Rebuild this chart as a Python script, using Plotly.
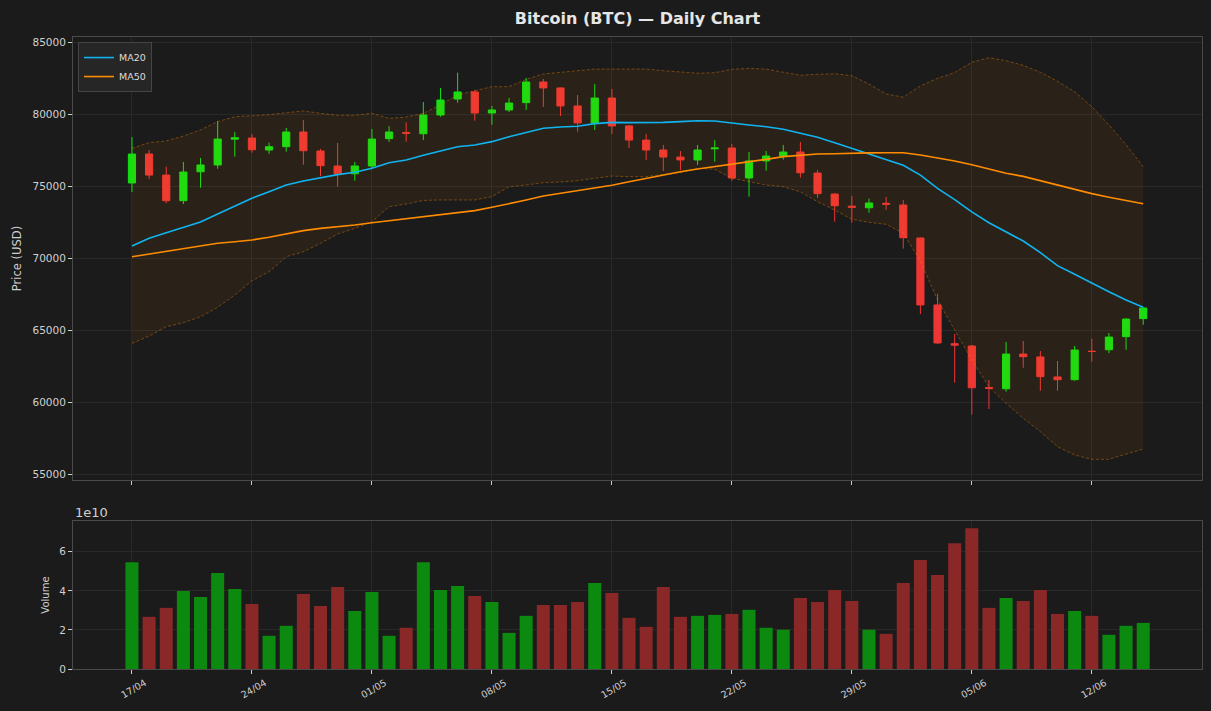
import plotly.graph_objects as go
import pandas as pd

# ---------------- data ----------------
dates = pd.date_range("2024-04-17", periods=60, freq="D")

open_ = [75210, 77220, 75760, 73980, 75990, 76460, 78250, 78330, 77500, 77730,
         78750, 77430, 76390, 75850, 76390, 78290, 78720, 78630, 79930, 81040,
         81530, 80070, 80280, 80790, 82220, 81810, 80560, 79380, 81110, 79170,
         78190, 77500, 77010, 76810, 77580, 77640, 75560, 76740, 77080, 77360,
         75900, 74440, 73600, 73490, 73800, 73680, 71390, 66740, 64050, 63890,
         61000, 60920, 63330, 63130, 61740, 61550, 63530, 63630, 64540, 65790]
high = [78400, 77500, 76340, 76670, 76940, 79510, 78750, 78610, 78010, 79030,
        79580, 77570, 77990, 76670, 78960, 79150, 79420, 80830, 81810, 82870,
        81670, 80560, 81110, 82500, 82430, 81850, 81320, 82080, 81740, 79240,
        78610, 77850, 77430, 77850, 78190, 77920, 77360, 77430, 77850, 78060,
        76110, 74510, 74310, 74120, 74240, 74030, 71420, 67500, 64720, 63960,
        61530, 64170, 64240, 63540, 62850, 63890, 64380, 64790, 65830, 66560]
low = [74580, 75490, 73800, 73750, 74880, 76200, 77040, 77310, 77240, 77380,
       76480, 75690, 74950, 75370, 76230, 78060, 78080, 78190, 79810, 80790,
       79540, 79260, 80140, 80280, 80490, 79860, 78770, 78890, 78610, 77640,
       76810, 76040, 76110, 76460, 76690, 75370, 74260, 76060, 76830, 75580,
       74170, 72520, 72450, 73150, 73350, 70650, 66110, 64030, 61340, 59120,
       59510, 60720, 62380, 60790, 60790, 61480, 62800, 63400, 63630, 65370]
close = [77220, 75760, 73980, 75970, 76460, 78260, 78350, 77520, 77730, 78750,
         77450, 76410, 75850, 76390, 78260, 78750, 78660, 79930, 80970, 81530,
         80070, 80280, 80760, 82220, 81810, 80560, 79380, 81110, 79170, 78190,
         77500, 77010, 76810, 77500, 77640, 75560, 76740, 77080, 77360, 75920,
         74470, 73630, 73530, 73820, 73740, 71410, 66740, 64100, 63950, 60990,
         60950, 63330, 63150, 61760, 61550, 63610, 63510, 64510, 65760, 66530]
volume = [5.47e10, 2.67e10, 3.13e10, 3.99e10, 3.69e10, 4.91e10, 4.10e10, 3.33e10, 1.70e10, 2.21e10,
          3.84e10, 3.23e10, 4.20e10, 2.97e10, 3.94e10, 1.70e10, 2.11e10, 5.47e10, 4.05e10, 4.25e10,
          3.74e10, 3.43e10, 1.85e10, 2.72e10, 3.28e10, 3.28e10, 3.43e10, 4.40e10, 3.89e10, 2.62e10,
          2.16e10, 4.20e10, 2.67e10, 2.72e10, 2.77e10, 2.82e10, 3.03e10, 2.11e10, 2.01e10, 3.64e10,
          3.43e10, 4.05e10, 3.48e10, 2.01e10, 1.80e10, 4.40e10, 5.58e10, 4.81e10, 6.44e10, 7.21e10,
          3.13e10, 3.64e10, 3.48e10, 4.05e10, 2.82e10, 2.97e10, 2.72e10, 1.75e10, 2.21e10, 2.36e10]
ma20 = [70830, 71370, 71760, 72130, 72500, 73060, 73610, 74150, 74600, 75070,
        75350, 75580, 75790, 75950, 76230, 76620, 76810, 77130, 77450, 77730,
        77850, 78080, 78420, 78730, 79010, 79100, 79150, 79330, 79420, 79400,
        79400, 79420, 79470, 79535, 79510, 79350, 79240, 79120, 78940, 78660,
        78380, 78010, 77620, 77220, 76850, 76440, 75760, 74840, 74060, 73200,
        72450, 71830, 71180, 70370, 69470, 68870, 68240, 67660, 67080, 66580]
ma50 = [70090, 70280, 70470, 70670, 70850, 71020, 71130, 71250, 71440, 71670,
        71900, 72060, 72170, 72290, 72450, 72590, 72740, 72870, 72970, 73130,
        73290, 73520, 73750, 74030, 74310, 74490, 74670, 74860, 75050, 75300,
        75540, 75760, 75990, 76180, 76340, 76510, 76690, 76850, 77040, 77150,
        77220, 77240, 77290, 77300, 77310, 77310, 77150, 76970, 76740, 76480,
        76160, 75880, 75670, 75370, 75050, 74740, 74470, 74220, 74010, 73770]
bb_upper = [77620, 78010, 78130, 78470, 78890, 79470, 79810, 79860, 79950, 80090,
            80210, 80050, 79910, 79910, 80050, 79700, 79790, 80050, 80630, 81320,
            81600, 81900, 81900, 82410, 82780, 82900, 82970, 83120, 83120, 83120,
            83120, 83010, 82930, 82830, 82870, 83100, 83170, 83120, 82900, 82690,
            82760, 82800, 82660, 82080, 81390, 81170, 81950, 82480, 82880, 83590,
            83910, 83700, 83380, 82900, 82270, 81550, 80510, 79240, 77870, 76340]
bb_lower = [64080, 64580, 65230, 65510, 65920, 66580, 67430, 68420, 69050, 70090,
            70440, 71020, 71670, 72060, 72520, 73560, 73750, 74000, 74030, 74030,
            74030, 74260, 74950, 75070, 75230, 75280, 75370, 75540, 75690, 75650,
            75650, 75810, 75920, 76230, 76160, 75540, 75300, 75070, 74950, 74600,
            73910, 73330, 72690, 72480, 72340, 71720, 69800, 67080, 65000, 62920,
            61060, 59910, 58870, 57940, 56900, 56320, 56020, 56020, 56390, 56740]

# ---------------- styling ----------------
GREEN = "#12e012"
RED = "#ee3634"
VOL_GREEN = "#0c8a10"
VOL_RED = "#8a2727"
BG = "#1b1b1b"
GRID = "#292929"
AXLINE = "#4a4a4a"
TXT = "#d0d0d0"
FONT = "DejaVu Sans"

vol_colors = [VOL_GREEN if c >= o else VOL_RED for o, c in zip(open_, close)]

fig = go.Figure()

band_line = dict(color="rgba(255,140,0,0.38)", width=1, dash="3px,2px")
fig.add_trace(go.Scatter(x=dates, y=bb_lower, mode="lines", line=band_line,
                         showlegend=False, hoverinfo="skip"))
fig.add_trace(go.Scatter(x=dates, y=bb_upper, mode="lines", line=band_line,
                         fill="tonexty", fillcolor="rgba(255,140,0,0.065)",
                         showlegend=False, hoverinfo="skip"))

fig.add_trace(go.Candlestick(
    x=dates, open=open_, high=high, low=low, close=close,
    increasing=dict(line=dict(color=GREEN, width=1), fillcolor=GREEN),
    decreasing=dict(line=dict(color=RED, width=1), fillcolor=RED),
    whiskerwidth=0, showlegend=False, name="BTC"))

fig.add_trace(go.Scatter(x=dates, y=ma20, mode="lines", name="MA20",
                         line=dict(color="#10b4f0", width=1.6)))
fig.add_trace(go.Scatter(x=dates, y=ma50, mode="lines", name="MA50",
                         line=dict(color="#ff8c00", width=1.6)))

fig.add_trace(go.Bar(x=dates, y=volume, marker=dict(color=vol_colors, line=dict(width=0)),
                     xaxis="x2", yaxis="y2", showlegend=False, name="Volume"))

xr = ["2024-04-13 13:26", "2024-06-18 10:19"]
common_x = dict(
    type="date", range=xr, tick0="2024-04-17", dtick=7 * 86400000,
    ticks="outside", ticklen=4, tickcolor="#cccccc", tickwidth=1,
    showgrid=True, gridcolor=GRID, gridwidth=1,
    showline=True, linecolor=AXLINE, linewidth=1, mirror=True,
    zeroline=False, rangeslider=dict(visible=False),
)

fig.update_layout(
    width=1211, height=711,
    paper_bgcolor=BG, plot_bgcolor=BG,
    margin=dict(l=73, r=9, t=37, b=42),
    font=dict(family=FONT, color=TXT, size=10.5),
    title=dict(text="<b>Bitcoin (BTC) — Daily Chart</b>", x=0.5, xref="paper",
               xanchor="center", y=1 - 18 / 711, yref="container", yanchor="middle",
               font=dict(family=FONT, size=16, color="#e6e6e6")),
    xaxis=dict(common_x, anchor="y", showticklabels=False, domain=[0, 1]),
    xaxis2=dict(common_x, anchor="y2", matches="x", showticklabels=True,
                tickformat="%d/%m", tickangle=-30, tickfont=dict(size=9.5, color=TXT),
                ticklabelshift=13, ticklabelstandoff=0, domain=[0, 1]),
    yaxis=dict(domain=[0.299, 1], range=[54583, 85347], tick0=55000, dtick=5000,
               tickformat="d", ticks="outside", ticklen=4, tickcolor="#cccccc",
               showgrid=True, gridcolor=GRID, showline=True, linecolor=AXLINE,
               mirror=True, zeroline=False, tickfont=dict(size=10.5, color=TXT),
               title=dict(text="Price (USD)", font=dict(size=11.5, color=TXT), standoff=8)),
    yaxis2=dict(domain=[0, 0.234], range=[0, 7.57e10],
                tickvals=[0, 2e10, 4e10, 6e10], ticktext=["0", "2", "4", "6"],
                ticks="outside", ticklen=4, tickcolor="#cccccc",
                showgrid=True, gridcolor=GRID, showline=True, linecolor=AXLINE,
                mirror=True, zeroline=False, tickfont=dict(size=10.5, color=TXT),
                title=dict(text="Volume", font=dict(size=10, color=TXT), standoff=7)),
    bargap=0.24,
    boxgap=0.4,
    legend=dict(x=0.0044, y=0.992, xanchor="left", yanchor="top",
                bgcolor="#262626", bordercolor="#454545", borderwidth=1,
                font=dict(size=9.5, color="#dddddd"), tracegroupgap=0,
                traceorder="normal", itemwidth=30),
    showlegend=True,
    annotations=[dict(text="1e10", xref="paper", yref="paper", x=0, y=0.2484,
                      xanchor="left", yanchor="middle", showarrow=False,
                      font=dict(size=13, color=TXT))],
)

fig.write_html("out.html")
